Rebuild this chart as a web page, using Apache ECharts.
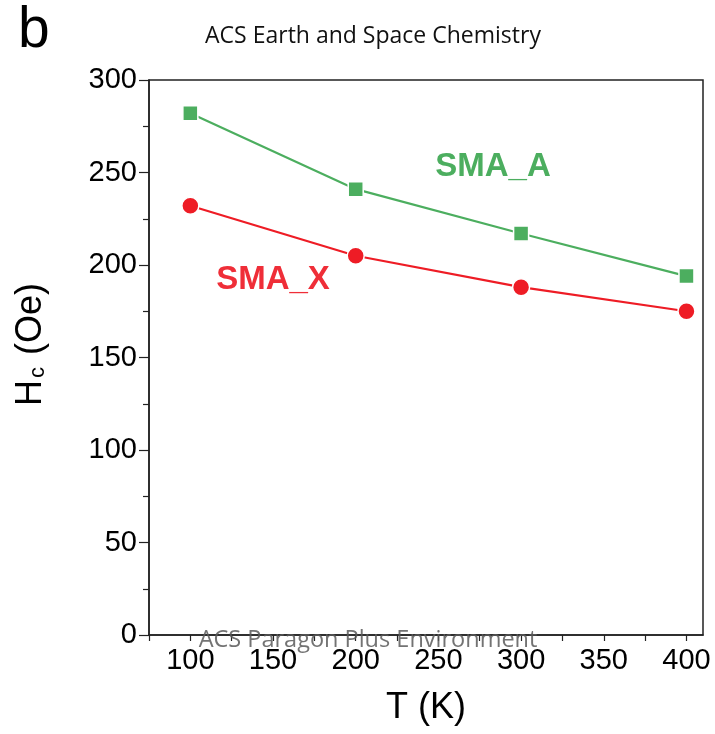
<!DOCTYPE html>
<html>
<head>
<meta charset="utf-8">
<script src="https://cdn.jsdelivr.net/npm/echarts@6/dist/echarts.min.js"></script>
<style>
  html, body { margin: 0; padding: 0; background: #fff; }
  #chart { width: 715px; height: 734px; }
</style>
</head>
<body>
<div id="chart"></div>
<script>
// Coercivity versus temperature for the two samples
const temperatures = [100, 200, 300, 400];
const hcSmaA = [282, 241, 217, 194];
const hcSmaX = [232, 205, 188, 175];
const xTickValues = [75, 100, 125, 150, 175, 200, 225, 250, 275, 300, 325, 350, 375, 400];
const xLabelValues = [100, 150, 200, 250, 300, 350, 400];

const green = '#4cae5f';
const red = '#ee1c25';
const font = 'Liberation Sans, Arial, sans-serif';

const chart = echarts.init(document.getElementById('chart'), null, { renderer: 'canvas' });

chart.setOption({
  animation: false,
  backgroundColor: '#fff',
  title: {
    text: 'ACS Earth and Space Chemistry',
    left: 368, top: 20, textAlign: 'center',
    textStyle: { fontFamily: 'Open Sans', fontWeight: 'normal', fontSize: 23, color: '#111' }
  },
  grid: {
    left: 149, top: 80, right: 12, bottom: 99,
    show: true, borderColor: '#222', borderWidth: 1.5, backgroundColor: 'transparent'
  },
  xAxis: {
    type: 'value', min: 75, max: 410,
    name: 'T (K)', nameLocation: 'middle', nameGap: 55,
    nameTextStyle: { fontFamily: font, fontSize: 36, color: '#000' },
    axisLine: { show: true, lineStyle: { color: '#222', width: 1.5 } },
    axisTick: { show: true, customValues: xTickValues, length: 6, lineStyle: { color: '#222', width: 1.2 } },
    axisLabel: {
      customValues: xLabelValues, margin: 11,
      fontFamily: font, fontSize: 29, color: '#000'
    },
    splitLine: { show: false }
  },
  yAxis: {
    type: 'value', min: 0, max: 300, interval: 50,
    name: '{h|H}{c|c}{h| (Oe)}', nameLocation: 'middle', nameGap: 100,
    nameTextStyle: {
      fontFamily: font, color: '#000', padding: [0, 0, 0, 26],
      rich: {
        h: { fontFamily: font, fontSize: 36, color: '#000' },
        c: { fontFamily: font, fontSize: 22, color: '#000', verticalAlign: 'bottom', padding: [0, 2, 0, 2] }
      }
    },
    axisLine: { show: true, lineStyle: { color: '#222', width: 1.5 } },
    axisTick: { show: true, length: 10, lineStyle: { color: '#222', width: 1.2 } },
    minorTick: { show: true, splitNumber: 2, length: 6, lineStyle: { color: '#222', width: 1.2 } },
    axisLabel: { margin: 12, fontFamily: font, fontSize: 29, color: '#000' },
    splitLine: { show: false }
  },
  series: [
    {
      name: 'SMA_A', type: 'line',
      data: temperatures.map((t, i) => [t, hcSmaA[i]]),
      symbol: 'rect', symbolSize: 15,
      lineStyle: { color: green, width: 2.2 },
      itemStyle: { color: green, borderColor: '#fff', borderWidth: 1.5 },
      z: 3
    },
    {
      name: 'SMA_X', type: 'line',
      data: temperatures.map((t, i) => [t, hcSmaX[i]]),
      symbol: 'circle', symbolSize: 17,
      lineStyle: { color: red, width: 2.2 },
      itemStyle: { color: red, borderColor: '#fff', borderWidth: 1.5 },
      z: 3
    },
    {
      // series name labels placed inside the plot
      type: 'scatter', symbolSize: 0, silent: true,
      itemStyle: { opacity: 1 },
      data: [
        { value: [283, 253], label: { formatter: 'SMA_A', color: green } },
        { value: [150, 192], label: { formatter: 'SMA_X', color: '#ef2e38' } }
      ],
      label: {
        show: true, position: 'inside', opacity: 1,
        fontFamily: font, fontWeight: 'bold', fontSize: 33
      }
    }
  ],
  graphic: [
    {
      type: 'text', left: 18, top: 3,
      style: { text: 'b', font: '57px Liberation Sans, Arial, sans-serif', fill: '#000' }
    },
    {
      type: 'text', x: 368, y: 640, z: 100,
      style: {
        text: 'ACS Paragon Plus Environment',
        font: '23.5px "Open Sans"', fill: 'rgba(90,90,90,0.85)',
        align: 'center', verticalAlign: 'middle'
      }
    }
  ]
});
</script>
</body>
</html>
